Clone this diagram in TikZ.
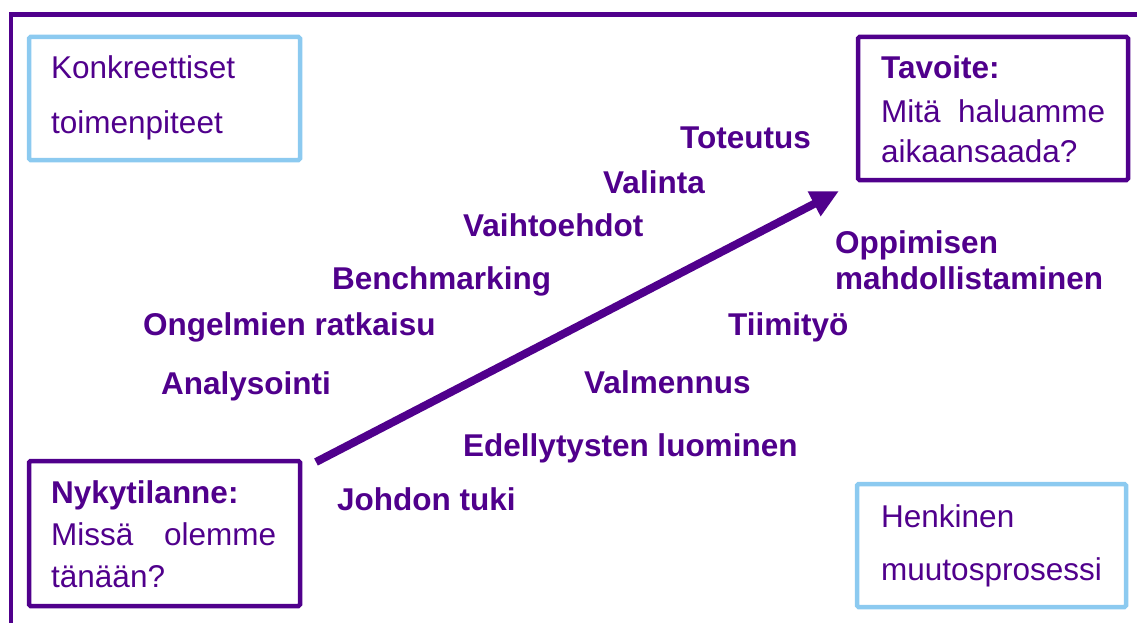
\documentclass[tikz,border=0pt]{standalone}
\usepackage{fontspec}
\setmainfont{Liberation Sans}
\usetikzlibrary{arrows.meta}
\definecolor{deeppurple}{RGB}{80,0,140}
\definecolor{skyline}{RGB}{140,202,240}
\begin{document}
\begin{tikzpicture}[x=1pt,y=-1pt,
  txt/.style={anchor=base west,inner sep=0pt,text=deeppurple,font=\fontsize{31.5}{36}\selectfont},
  bold/.style={txt,font=\fontsize{31.5}{36}\selectfont\bfseries},
  bluebox/.style={draw=skyline,line width=4.5pt,rounded corners=1.5pt,inner sep=0pt},
  purplebox/.style={draw=deeppurple,line width=4.5pt,rounded corners=1.5pt,inner sep=0pt},
  flow/.style={draw=deeppurple,line width=8pt,-{Triangle[length=28pt,width=26pt]}}]
\useasboundingbox (0,0) rectangle (1137,623);
% outer frame
\draw[deeppurple,line width=4.5pt] (11,623) -- (11,14.5) -- (1137,14.5);
% corner boxes
\node[bluebox,minimum width=271pt,minimum height=123pt] (konk) at (164.5,98.5) {};
\node[purplebox,minimum width=270pt,minimum height=143pt] (goal) at (993,108.5) {};
\node[purplebox,minimum width=271pt,minimum height=145pt] (now) at (164.5,533.5) {};
\node[bluebox,minimum width=269pt,minimum height=123pt] (pers) at (991.5,545.5) {};
% box texts
\node[txt] (k1) at (51,79) {Konkreettiset};
\node[txt] (k2) at (51,133) {toimenpiteet};
\node[bold] (g1) at (881,79) {Tavoite:};
\node[txt] (g2) at (881,122) {\makebox[224pt][l]{Mitä\hfill haluamme}};
\node[txt] (g3) at (881,162) {aikaansaada?};
\node[bold] (n1) at (51,503) {Nykytilanne:};
\node[txt] (n2) at (51,545) {\makebox[225pt][l]{Missä\hfill olemme}};
\node[txt] (n3) at (51,587) {tänään?};
\node[txt] (p1) at (881,527) {Henkinen};
\node[txt] (p2) at (881,580) {muutosprosessi};
% concrete steps (upper left of the arrow)
\node[bold] (s1) at (680,148) {Toteutus};
\node[bold] (s2) at (603,193) {Valinta};
\node[bold] (s3) at (463,236) {Vaihtoehdot};
\node[bold] (s4) at (332,289) {Benchmarking};
\node[bold] (s5) at (143,335) {Ongelmien ratkaisu};
\node[bold] (s6) at (161,394) {Analysointi};
% personal change (lower right of the arrow)
\node[bold] (c1) at (337,510) {Johdon tuki};
\node[bold] (c2) at (463,456) {Edellytysten luominen};
\node[bold] (c3) at (584,393) {Valmennus};
\node[bold] (c4) at (728,335) {Tiimityö};
\node[bold] (c5) at (835,253) {Oppimisen};
\node[bold] (c6) at (835,289) {mahdollistaminen};
% main arrow
\coordinate (start) at (316,462);
\coordinate (finish) at (839,191);
\draw[flow] (start) -- (finish);
\end{tikzpicture}
\end{document}
